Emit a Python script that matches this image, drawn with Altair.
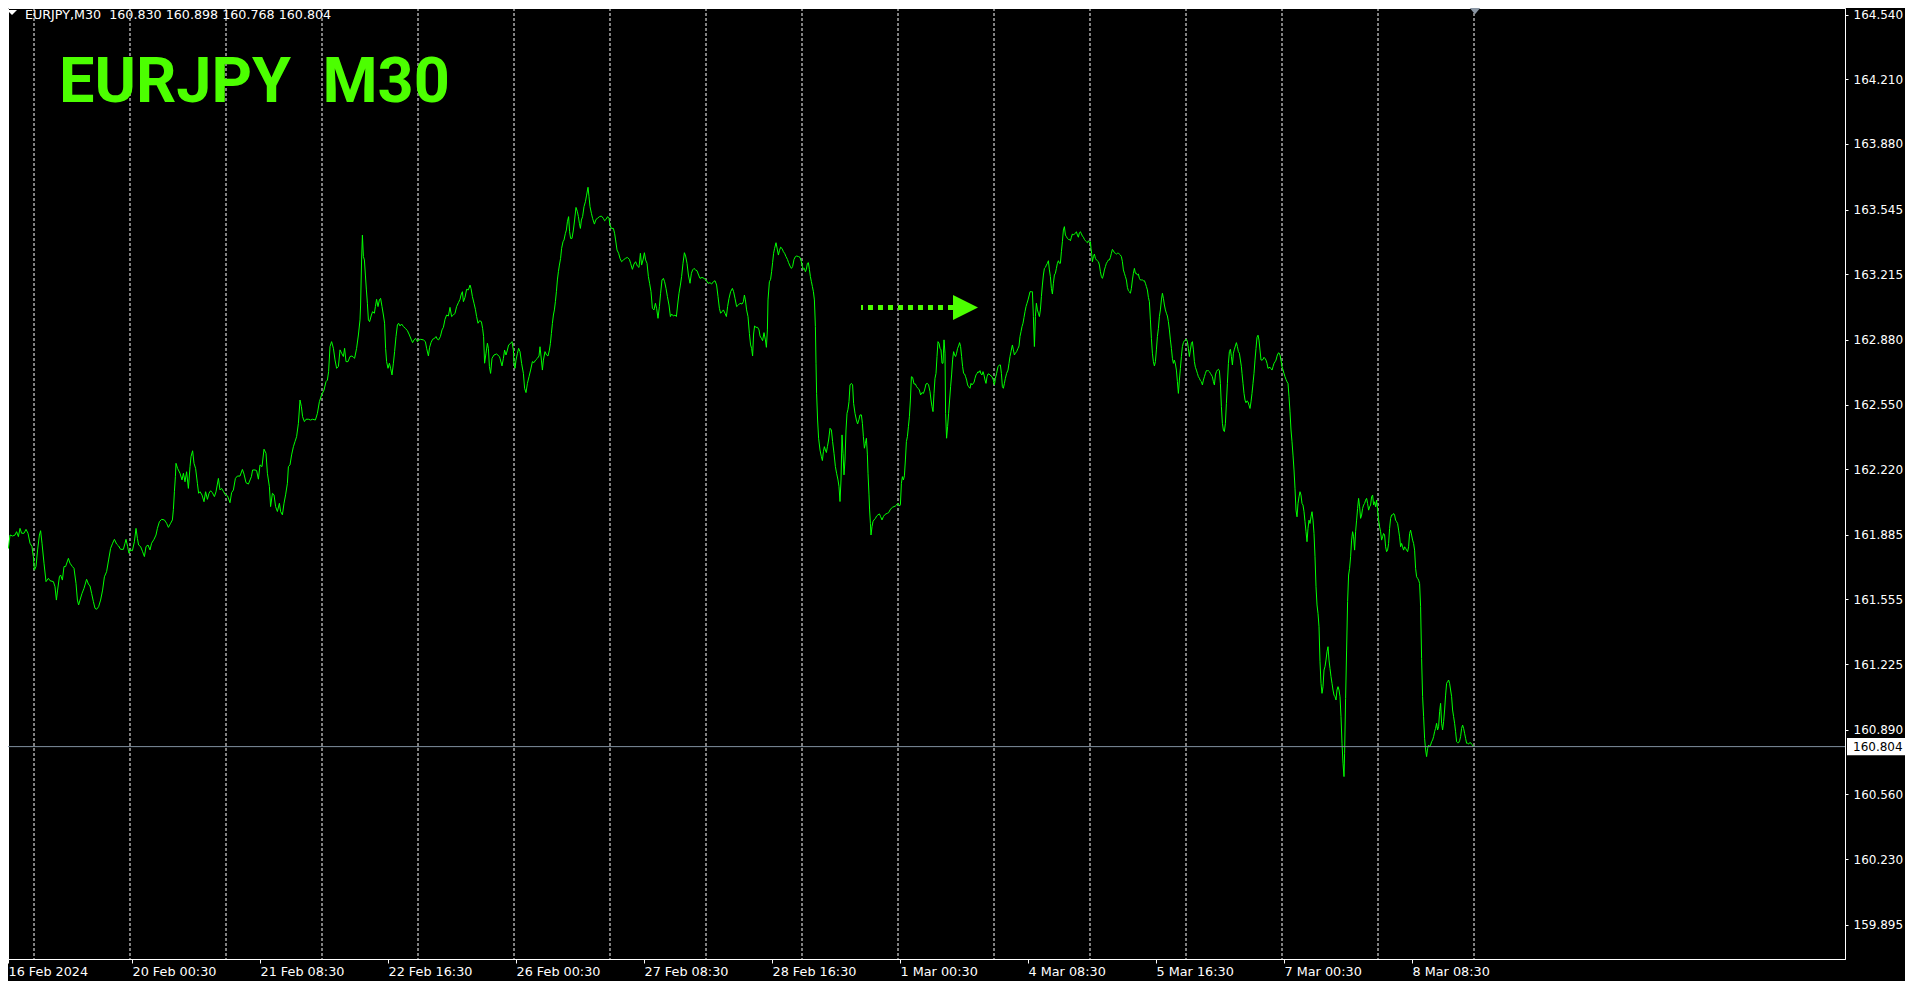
import altair as alt
import pandas as pd

# ---------------- data (bar index of the M30 chart, close price) ----------------
seg_feb16_20 = [(1.0,161.774),(1.3,161.816),(2.3,161.850),(3.2,161.816),(4.0,161.884),(5.3,161.879),(6.5,161.884),(7.3,161.901),(8.2,161.876),(9.0,161.918),(9.8,161.893),(11.0,161.893),(12.0,161.913),(13.0,161.893),(14.0,161.842),(15.0,161.825),(15.7,161.774),(16.2,161.705),(17.0,161.723),(17.8,161.808),(18.7,161.884),(19.3,161.906),(20.0,161.842),(21.0,161.740),(22.0,161.646),(23.2,161.663),(24.0,161.651),(25.7,161.646),(26.5,161.620),(27.2,161.552),(27.8,161.603),(28.7,161.671),(29.3,161.680),(30.2,161.654),(31.0,161.723),(31.8,161.723),(33.2,161.765),(34.0,161.740),(35.2,161.723),(36.0,161.714),(37.0,161.637),(37.7,161.552),(38.3,161.527),(39.0,161.552),(40.0,161.586),(41.0,161.612),(42.3,161.658),(43.2,161.634),(44.0,161.624),(44.8,161.586),(45.7,161.544),(46.5,161.510),(47.3,161.505),(48.3,161.518),(49.3,161.552),(50.3,161.603),(51.2,161.671),(52.3,161.697),(53.3,161.757),(54.3,161.816),(55.3,161.842),(56.2,161.862),(57.3,161.838),(58.3,161.828),(59.3,161.811),(60.7,161.811),(61.5,161.842),(62.0,161.862),(62.8,161.825),(63.5,161.791),(64.3,161.808),(65.2,161.804),(66.2,161.850),(67.0,161.918),(67.7,161.867),(68.3,161.833),(69.3,161.825),(70.3,161.799),(71.2,161.774),(72.0,161.825),(73.0,161.833),(74.0,161.808),(74.8,161.842),(76.0,161.862),(77.0,161.884),(77.7,161.918),(78.7,161.952),(79.8,161.964),(81.2,161.961),(82.3,161.944),(83.2,161.923),(84.3,161.944),(85.2,161.961),(85.7,162.015),(86.2,162.105),(86.7,162.182),(87.0,162.250),(87.8,162.224),(89.0,162.199),(90.0,162.165),(90.7,162.199),(91.5,162.156),(92.3,162.207),(93.2,162.122),(94.0,162.233),(94.5,162.284),(95.3,162.314),(96.0,162.250),(96.8,162.224),(97.7,162.148),(98.3,162.097),(99.0,162.105),(100.0,162.088),(101.0,162.054),(101.8,162.105),(102.7,162.066),(103.5,162.097),(104.3,162.110),(105.2,162.100),(106.2,162.080),(107.0,162.105),(108.2,162.173),(109.0,162.114),(109.8,162.122),(110.8,162.105),(111.8,162.088),(112.8,162.083),(114.0,162.049),(114.8,162.100),(115.7,162.114),(116.7,162.173),(117.7,162.185),(119.0,162.185),(120.2,162.219),(121.0,162.195),(122.0,162.151),(123.2,162.144)]

seg_feb20_23 = [(124.7,162.182),(125.3,162.216),(126.5,162.216),(127.3,162.213),(128.2,162.169),(129.0,162.242),(130.0,162.233),(131.0,162.322),(132.0,162.301),(132.7,162.199),(133.7,162.131),(134.3,162.029),(135.2,162.097),(136.0,162.089),(136.8,162.029),(137.7,162.004),(138.7,162.046),(139.3,162.004),(140.2,161.987),(141.0,162.046),(141.8,162.089),(142.7,162.148),(143.2,162.233),(144.0,162.242),(144.8,162.293),(145.7,162.335),(146.5,162.361),(147.3,162.386),(148.2,162.454),(149.0,162.573),(149.7,162.539),(150.3,162.488),(151.2,162.463),(152.0,162.475),(153.2,162.475),(154.3,162.471),(155.3,162.475),(156.7,162.471),(157.7,162.505),(158.7,162.565),(159.8,162.599),(161.0,162.624),(162.0,162.667),(162.7,162.675),(163.3,162.718),(164.0,162.846),(164.8,162.871),(165.7,162.837),(166.5,162.778),(167.3,162.735),(168.2,162.744),(169.0,162.829),(169.8,162.812),(170.7,162.795),(171.3,162.837),(172.0,162.769),(173.0,162.769),(174.0,162.795),(175.0,162.798),(175.7,162.791),(176.3,162.786),(177.3,162.837),(178.2,162.905),(179.0,162.982),(179.3,163.058),(179.8,163.288),(180.2,163.415),(180.7,163.305),(181.2,163.288),(181.7,163.211),(182.2,163.135),(182.7,163.067),(183.2,162.982),(183.8,162.973),(184.7,163.007),(185.3,163.024),(186.2,163.016),(186.7,163.050),(187.3,163.087),(188.0,163.050),(188.7,163.084),(189.3,163.092),(190.0,163.050),(190.7,163.007),(191.3,162.965),(191.8,162.837),(192.3,162.769),(193.0,162.735),(193.7,162.761),(194.3,162.735),(195.0,162.701),(195.7,162.761),(196.3,162.820),(197.0,162.897),(197.7,162.956),(198.3,162.965),(199.0,162.951),(199.8,162.961),(200.7,162.948),(201.7,162.939),(202.7,162.927),(203.7,162.905),(204.7,162.880),(205.3,162.866),(206.0,162.880),(206.8,162.888),(207.7,162.871),(208.5,162.880),(209.3,162.883),(210.7,162.880),(211.7,162.871),(212.3,162.837),(213.2,162.798),(213.8,162.842),(214.5,162.866),(215.3,162.883),(216.3,162.888),(217.0,162.897),(217.7,162.883),(218.3,162.880),(219.2,162.897),(220.0,162.931),(220.7,162.944),(221.5,162.985),(222.3,163.007),(223.2,163.002),(224.0,163.046),(224.8,162.999),(225.7,163.007),(226.5,163.016),(227.3,163.050),(228.2,163.070),(229.0,163.087),(229.5,163.109),(230.2,163.126),(230.7,163.075),(231.5,163.097),(232.3,163.138),(233.2,163.135),(234.0,163.160),(234.5,163.143),(235.2,163.101),(236.0,163.067),(236.7,163.036),(237.3,162.999),(238.0,162.965),(238.8,162.978),(239.7,162.973),(240.3,162.939),(240.8,162.897),(241.3,162.761),(242.0,162.812),(242.7,162.863),(243.2,162.837),(243.7,162.744),(244.3,162.709),(245.0,162.786),(246.0,162.803),(247.3,162.808),(248.7,162.795)]

seg_feb23_28 = [(249.0,162.786),(250.0,162.747),(250.7,162.786),(251.3,162.828),(252.0,162.803),(252.7,162.828),(253.3,162.854),(254.3,162.862),(255.0,162.871),(255.7,162.828),(256.0,162.760),(256.5,162.735),(257.0,162.777),(257.7,162.811),(258.3,162.837),(259.0,162.820),(259.8,162.760),(260.7,162.709),(261.3,162.633),(262.0,162.611),(262.7,162.658),(263.5,162.692),(264.3,162.726),(265.2,162.769),(266.0,162.764),(266.8,162.777),(267.7,162.786),(268.5,162.798),(269.0,162.845),(269.7,162.777),(270.2,162.726),(270.7,162.777),(271.5,162.820),(272.3,162.803),(273.0,162.798),(273.7,162.828),(274.2,162.862),(274.7,162.913),(275.2,162.964),(275.7,163.007),(276.2,163.033),(276.7,163.075),(277.2,163.126),(277.7,163.186),(278.2,163.228),(278.7,163.262),(279.3,163.296),(279.8,163.347),(280.5,163.381),(281.0,163.390),(281.7,163.424),(282.2,163.441),(282.7,163.483),(283.3,163.509),(283.8,163.432),(284.3,163.398),(285.0,163.398),(285.7,163.441),(286.3,163.492),(287.0,163.556),(287.7,163.534),(288.2,163.509),(288.7,163.475),(289.2,163.449),(289.7,163.492),(290.3,163.509),(291.0,163.560),(291.7,163.585),(292.3,163.619),(293.0,163.659),(293.5,163.611),(294.0,163.560),(294.7,163.526),(295.3,163.500),(296.2,163.471),(297.0,163.495),(297.7,163.500),(298.7,163.509),(299.7,163.512),(300.7,163.500),(301.3,163.488),(302.0,163.495),(302.8,163.509),(303.5,163.500),(304.0,163.466),(304.7,163.449),(305.7,163.449),(306.3,163.424),(306.8,163.390),(307.5,163.339),(308.3,163.322),(309.0,163.296),(309.8,163.279),(310.7,163.288),(311.7,163.296),(312.7,163.301),(313.7,163.291),(314.3,163.271),(315.2,163.240),(316.0,163.267),(316.8,163.279),(317.7,163.257),(318.5,163.250),(319.2,163.322),(319.8,163.262),(320.5,163.288),(321.2,163.325),(321.8,163.288),(322.5,163.271),(323.2,163.203),(323.8,163.169),(324.5,163.126),(325.2,163.041),(326.0,163.033),(326.7,163.067),(327.3,163.041),(328.0,162.990),(328.7,163.050),(329.3,163.118),(330.0,163.186),(330.7,163.194),(331.3,163.177),(332.0,163.143),(332.7,163.101),(333.5,163.058),(334.2,162.999),(334.8,163.012),(335.7,163.002),(336.5,163.007),(337.2,162.999),(337.8,163.058),(338.5,163.118),(339.2,163.160),(339.8,163.203),(340.5,163.271),(341.2,163.325),(341.8,163.308),(342.5,163.271),(343.2,163.211),(344.0,163.169),(344.7,163.220),(345.3,163.237),(346.0,163.245),(346.8,163.237),(347.5,163.233),(348.3,163.211),(349.0,163.194),(350.0,163.199),(351.0,163.194),(352.0,163.186),(353.0,163.169),(354.0,163.172),(354.8,163.165),(355.7,163.177),(356.5,163.182),(357.3,163.160),(358.0,163.101),(358.7,163.041),(359.3,163.016),(360.0,163.024),(360.7,163.033),(361.5,163.016),(362.2,162.999),(362.8,163.050),(363.5,163.092),(364.3,163.126),(365.2,163.143),(365.8,163.126),(366.5,163.092),(367.3,163.050),(368.2,163.058),(369.0,163.067),(370.0,163.063),(370.7,163.075),(371.2,163.109),(371.7,163.084),(372.3,163.033),(373.0,162.999),(373.7,162.913)]

seg_feb28_mar4 = [(374.3,162.854),(374.8,162.837),(375.3,162.798),(375.8,162.910),(376.3,162.951),(377.0,162.944),(377.8,162.944),(378.5,162.931),(379.0,162.900),(379.7,162.888),(380.3,162.876),(381.0,162.917),(381.7,162.880),(382.2,162.842),(382.7,162.931),(383.0,163.084),(383.7,163.177),(384.3,163.189),(384.8,163.228),(385.3,163.274),(385.8,163.322),(386.3,163.347),(387.0,163.376),(387.7,163.339),(388.2,163.313),(388.7,163.335),(389.3,163.353),(390.0,163.347),(390.7,163.330),(391.3,163.322),(392.0,163.305),(392.7,163.291),(393.3,163.274),(394.0,163.257),(394.7,163.245),(395.3,163.254),(396.0,163.291),(396.7,163.305),(397.3,163.308),(398.3,163.305),(399.0,163.301),(399.7,163.279),(400.2,163.254),(400.7,163.240),(401.2,163.245),(401.7,163.228),(402.2,163.240),(402.7,163.271),(403.2,163.274),(403.7,163.240),(404.2,163.203),(404.7,163.177),(405.2,163.152),(405.7,163.126),(406.2,163.084),(406.7,162.948),(407.0,162.761),(407.3,162.607),(407.8,162.471),(408.3,162.378),(409.0,162.318),(409.7,162.284),(410.2,162.264),(410.7,162.310),(411.2,162.335),(411.7,162.318),(412.2,162.305),(412.7,162.335),(413.3,162.369),(414.0,162.429),(414.7,162.420),(415.3,162.361),(416.0,162.301),(416.7,162.233),(417.3,162.199),(418.0,162.165),(418.5,162.131),(419.0,162.055),(419.5,162.165),(420.0,162.395),(420.5,162.301),(421.0,162.191),(421.5,162.267),(422.0,162.420),(422.5,162.505),(423.0,162.526),(423.5,162.565),(424.0,162.650),(424.7,162.658),(425.3,162.650),(425.8,162.556),(426.5,162.505),(427.2,162.471),(427.8,162.451),(428.5,162.475),(429.0,162.497),(429.7,162.497),(430.2,162.454),(430.7,162.386),(431.2,162.327),(431.7,162.352),(432.2,162.378),(432.7,162.293),(433.0,162.199),(433.5,162.089),(433.8,162.012),(434.2,161.944),(434.5,161.884),(435.0,161.927),(435.5,161.953),(436.0,161.961),(436.7,161.969),(437.3,161.981),(438.0,161.987),(438.7,161.992),(439.3,161.978),(440.0,161.961),(440.7,161.978),(441.3,161.987),(442.0,161.992),(442.7,161.995),(443.3,161.998),(444.0,162.012),(444.7,162.021),(445.3,162.026),(446.0,162.029),(446.7,162.032),(447.3,162.038),(448.0,162.046),(448.7,162.032),(449.2,162.038),(449.7,162.148),(450.2,162.182),(450.7,162.165),(451.2,162.186),(451.7,162.267),(452.2,162.361),(452.7,162.386),(453.2,162.437),(453.7,162.488),(454.2,162.573),(454.7,162.692),(455.3,162.689),(456.0,162.655),(456.7,162.655),(457.3,162.641),(458.0,162.633),(458.7,162.624),(459.3,162.599),(460.0,162.611),(460.7,162.607),(461.3,162.624),(462.0,162.655),(462.7,162.658),(463.3,162.650),(464.0,162.616),(464.5,162.573),(465.0,162.539),(465.5,162.514),(466.0,162.607),(466.5,162.684),(467.0,162.709),(467.5,162.795),(468.0,162.871),(468.5,162.863),(469.0,162.837),(469.5,162.829),(470.0,162.761),(470.5,162.761),(471.0,162.880),(471.5,162.812),(471.8,162.505),(472.3,162.378),(472.8,162.437),(473.3,162.505),(473.8,162.573),(474.3,162.641),(474.8,162.701),(475.3,162.778),(475.8,162.820),(476.3,162.803),(476.8,162.795),(477.3,162.812),(477.8,162.837),(478.3,162.849),(478.8,162.866),(479.3,162.846),(479.8,162.795),(480.3,162.744),(480.8,162.709),(481.3,162.706),(481.8,162.692),(482.3,162.675),(482.8,162.650),(483.3,162.641),(484.0,162.633),(484.5,162.658),(485.0,162.650),(485.5,162.658),(486.0,162.662),(486.5,162.684),(487.0,162.701),(487.5,162.709),(488.0,162.718),(488.5,162.713),(489.0,162.723),(489.5,162.706),(490.0,162.701),(490.5,162.718),(491.0,162.701),(491.5,162.675),(492.0,162.658),(492.5,162.692),(493.0,162.706),(493.5,162.706),(494.0,162.701)]

seg_mar4_6 = [(495.0,162.692),(495.7,162.675),(496.2,162.650),(496.7,162.684),(497.3,162.709),(498.0,162.743),(498.7,162.752),(499.2,162.752),(499.7,162.709),(500.2,162.641),(500.7,162.633),(501.2,162.658),(501.7,162.684),(502.3,162.709),(503.0,162.726),(503.5,162.760),(504.0,162.795),(504.5,162.820),(505.2,162.854),(505.7,162.829),(506.2,162.803),(506.7,162.812),(507.3,162.820),(508.0,162.837),(508.5,162.849),(509.0,162.897),(509.5,162.922),(510.0,162.948),(510.5,162.965),(511.0,162.995),(511.5,163.024),(512.0,163.050),(512.5,163.067),(513.0,163.084),(513.5,163.104),(514.0,163.126),(514.7,163.126),(515.2,163.126),(515.7,162.999),(516.2,162.846),(516.7,162.999),(517.2,163.067),(517.7,163.033),(518.2,163.016),(518.7,162.999),(519.2,163.033),(519.7,163.101),(520.2,163.160),(520.7,163.211),(521.2,163.245),(521.7,163.250),(522.2,163.262),(522.7,163.271),(523.2,163.284),(523.7,163.237),(524.2,163.203),(524.7,163.143),(525.2,163.114),(525.7,163.169),(526.2,163.211),(526.7,163.220),(527.2,163.245),(527.7,163.271),(528.2,163.284),(528.7,163.271),(529.2,163.271),(529.7,163.330),(530.2,163.381),(530.7,163.441),(531.2,163.458),(531.7,163.415),(532.2,163.407),(532.7,163.398),(533.2,163.393),(533.7,163.393),(534.2,163.386),(534.7,163.404),(535.2,163.421),(535.7,163.415),(536.2,163.421),(536.7,163.424),(537.2,163.432),(537.7,163.415),(538.2,163.404),(538.7,163.427),(539.2,163.432),(539.7,163.421),(540.2,163.410),(540.7,163.404),(541.2,163.393),(541.7,163.386),(542.2,163.381),(542.7,163.376),(543.2,163.386),(543.7,163.376),(544.2,163.381),(544.5,163.347),(544.8,163.322),(545.2,163.279),(545.7,163.305),(546.2,163.318),(546.7,163.296),(547.2,163.288),(547.7,163.284),(548.2,163.279),(548.7,163.262),(549.2,163.228),(549.7,163.203),(550.2,163.194),(550.7,163.211),(551.2,163.237),(551.7,163.254),(552.2,163.271),(552.7,163.279),(553.2,163.288),(553.7,163.288),(554.2,163.301),(554.7,163.322),(555.2,163.342),(555.7,163.335),(556.2,163.325),(556.7,163.322),(557.2,163.318),(557.7,163.322),(558.2,163.322),(558.7,163.318),(559.2,163.313),(559.7,163.305),(560.2,163.279),(560.7,163.237),(561.2,163.220),(561.7,163.203),(562.2,163.186),(562.7,163.148),(563.2,163.131),(563.7,163.126),(564.2,163.118),(564.7,163.143),(565.2,163.186),(565.7,163.220),(566.2,163.245),(566.7,163.220),(567.2,163.220),(567.7,163.211),(568.2,163.216),(568.7,163.194),(569.2,163.186),(569.7,163.186),(570.2,163.186),(570.7,163.182),(571.2,163.182),(571.7,163.169),(572.2,163.152),(572.7,163.135),(573.2,163.097),(573.7,163.075),(574.2,162.982),(574.7,162.888),(575.2,162.812),(575.7,162.769),(576.2,162.747),(576.7,162.769),(577.2,162.829),(577.7,162.897),(578.2,162.939),(578.7,162.999),(579.2,163.033),(579.7,163.084),(580.2,163.118),(580.7,163.092),(581.2,163.058),(581.7,163.033),(582.2,163.016),(582.7,163.002),(583.2,162.973),(583.7,162.931),(584.2,162.880),(584.7,162.837),(585.2,162.786),(585.7,162.760),(586.2,162.777),(586.7,162.757),(587.2,162.726),(587.7,162.667),(588.2,162.607),(588.7,162.675),(589.2,162.735),(589.7,162.795),(590.2,162.846),(590.7,162.866),(591.2,162.876),(591.7,162.880),(592.2,162.883),(592.7,162.871),(593.2,162.837),(593.7,162.795),(594.2,162.829),(594.7,162.863),(595.2,162.871),(595.7,162.829),(596.2,162.769),(596.7,162.740),(597.2,162.726),(597.7,162.709),(598.2,162.692),(598.7,162.684),(599.2,162.672),(599.7,162.667),(600.2,162.650),(600.7,162.675),(601.2,162.692),(601.7,162.709),(602.2,162.723),(602.7,162.723),(603.2,162.723),(603.7,162.718),(604.2,162.709),(604.7,162.701),(605.2,162.692),(605.7,162.667),(606.2,162.650),(606.7,162.701),(607.2,162.718),(607.7,162.726),(608.2,162.730),(608.7,162.723),(609.2,162.658),(609.7,162.539),(610.2,162.454),(610.7,162.420),(611.2,162.412),(611.7,162.454),(612.2,162.556),(612.7,162.658),(613.2,162.760),(613.7,162.820),(614.2,162.832),(614.7,162.795),(615.2,162.752),(615.7,162.812),(616.2,162.832),(616.7,162.849),(617.2,162.866),(617.7,162.846),(618.2,162.820),(618.7,162.812),(619.2,162.777),(619.7,162.743)]

seg_mar6_8 = [(620.0,162.709),(620.5,162.658),(621.0,162.607),(621.5,162.573),(622.0,162.559),(622.5,162.569),(623.0,162.564),(623.5,162.547),(624.0,162.530),(624.5,162.564),(625.0,162.607),(625.5,162.658),(626.0,162.709),(626.5,162.777),(627.0,162.836),(627.5,162.893),(628.0,162.904),(628.5,162.879),(629.0,162.828),(629.5,162.777),(630.0,162.777),(630.5,162.780),(631.0,162.791),(631.5,162.785),(632.0,162.777),(632.5,162.760),(633.0,162.734),(633.5,162.739),(634.0,162.739),(634.5,162.734),(635.0,162.726),(635.5,162.743),(636.0,162.760),(636.5,162.768),(637.0,162.777),(637.5,162.797),(638.0,162.811),(638.5,162.814),(639.0,162.802),(639.5,162.777),(640.0,162.743),(640.5,162.726),(641.0,162.709),(641.5,162.692),(642.0,162.678),(642.5,162.666),(643.0,162.658),(643.5,162.590),(644.0,162.513),(644.5,162.420),(645.0,162.360),(645.5,162.292),(646.0,162.216),(646.5,162.122),(647.0,162.011),(647.5,161.977),(648.0,162.045),(648.5,162.079),(649.0,162.105),(649.5,162.088),(650.0,162.045),(650.5,162.037),(651.0,162.003),(651.5,161.952),(652.0,161.901),(652.5,161.850),(653.0,161.918),(653.5,161.960),(654.0,161.943),(654.5,161.977),(655.0,162.003),(655.5,161.960),(656.0,161.892),(656.5,161.773),(657.0,161.620),(657.5,161.527),(658.0,161.484),(658.5,161.416),(659.0,161.237),(659.5,161.127),(660.0,161.076),(660.5,161.110),(661.0,161.195),(661.5,161.212),(662.0,161.246),(662.5,161.288),(663.0,161.314),(663.5,161.246),(664.0,161.203),(664.5,161.161),(665.0,161.127),(665.5,161.093),(666.0,161.067),(666.5,161.059),(667.0,161.042),(667.5,161.093),(668.0,161.110),(668.5,161.093),(669.0,161.059),(669.5,160.957),(670.0,160.821),(670.5,160.719),(671.0,160.651),(671.3,160.770),(671.8,161.050),(672.3,161.297),(672.8,161.544),(673.3,161.680),(673.8,161.714),(674.3,161.773),(674.8,161.858),(675.3,161.901),(675.8,161.875),(676.3,161.807),(676.8,161.901),(677.3,161.960),(677.8,162.020),(678.3,162.071),(678.8,162.028),(679.3,161.969),(679.8,161.986),(680.3,162.020),(680.8,162.037),(681.3,162.045),(681.8,162.062),(682.3,162.071),(682.8,162.045),(683.3,162.011),(683.8,162.028),(684.3,162.037),(684.8,162.079),(685.3,162.088),(685.8,162.037),(686.3,162.054),(686.8,162.028),(687.3,162.062),(687.8,162.011),(688.3,161.960),(688.8,161.926),(689.3,161.901),(689.8,161.858),(690.3,161.875),(690.8,161.892),(691.3,161.884),(691.8,161.824),(692.3,161.799),(692.8,161.807),(693.3,161.841),(693.8,161.918),(694.3,161.969),(694.8,161.986),(695.3,161.986),(695.8,161.994),(696.3,161.986),(696.8,161.960),(697.3,161.952),(697.8,161.943),(698.3,161.909),(698.8,161.875),(699.3,161.824),(699.8,161.841),(700.3,161.824),(700.8,161.807),(701.3,161.824),(701.8,161.816),(702.3,161.807),(702.8,161.799),(703.3,161.824),(703.8,161.892),(704.3,161.909),(704.8,161.884),(705.3,161.858),(705.8,161.841),(706.3,161.807),(706.8,161.714),(707.3,161.671),(707.8,161.663),(708.3,161.654),(708.8,161.637),(709.3,161.518),(709.8,161.254),(710.3,161.059),(710.8,160.957),(711.3,160.846),(711.8,160.787),(712.3,160.753),(712.8,160.795),(713.3,160.812),(713.8,160.804),(714.3,160.812),(714.8,160.829),(715.3,160.838),(715.8,160.855),(716.3,160.880),(716.8,160.897),(717.3,160.923),(717.8,160.889),(718.3,160.906),(718.8,160.982),(719.3,161.025),(719.8,160.923),(720.3,160.889),(720.8,160.931),(721.3,160.991),(721.8,161.067),(722.3,161.127),(722.8,161.135),(723.3,161.144),(723.8,161.127),(724.3,161.093),(724.8,161.059),(725.3,160.991),(725.8,160.957),(726.3,160.923),(726.8,160.880),(727.3,160.829),(727.8,160.824),(728.3,160.824),(728.8,160.834),(729.3,160.855),(729.8,160.897),(730.3,160.914),(730.8,160.897),(731.3,160.872),(731.8,160.846),(732.3,160.821),(732.8,160.821),(733.3,160.817),(733.8,160.824),(734.3,160.824),(734.8,160.816),(735.3,160.812),(735.8,160.804)]

price_ticks = [164.540, 164.210, 163.880, 163.545, 163.215, 162.880, 162.550,
               162.220, 161.885, 161.555, 161.225, 160.890, 160.560, 160.230, 159.895]
time_tick_bars = [3, 65, 129, 193, 257, 321, 385, 449, 513, 577, 641, 705]
time_tick_labels = ["16 Feb 2024", "20 Feb 00:30", "21 Feb 08:30", "22 Feb 16:30",
                    "26 Feb 00:30", "27 Feb 08:30", "28 Feb 16:30", "1 Mar 00:30",
                    "4 Mar 08:30", "5 Mar 16:30", "7 Mar 00:30", "8 Mar 08:30"]
day_start_bars = [16, 64, 112, 160, 208, 256, 304, 352, 400, 448, 496, 544, 592, 640, 688, 736]
ohlc_last = [160.830, 160.898, 160.768, 160.804]
last_price = 160.804
arrow_bars = [429.5, 475.5]
arrow_head_bar = [481.75]
arrow_price = [163.045]
shift_marker_bar = [736.5]

# ---------------- layout ----------------
W, H = 1837, 951
X_DOM = [3, 921.5]
Y_DOM = [159.720, 164.574]
LINE_GREEN = "#00FF00"
TEXT_GREEN = "#4CFF00"
FONT = "DejaVu Sans"

xs = alt.Scale(domain=X_DOM, nice=False, zero=False)
ys = alt.Scale(domain=Y_DOM, nice=False, zero=False)

df = pd.DataFrame(seg_feb16_20 + seg_feb20_23 + seg_feb23_28 + seg_feb28_mar4 + seg_mar4_6 + seg_mar6_8,
                  columns=["bar", "price"])

label_expr = ("[" + ",".join("'%s'" % t for t in time_tick_labels) + "][indexof(["
              + ",".join(str(b) for b in time_tick_bars) + "], datum.value)]")

x_axis = alt.Axis(values=time_tick_bars, labelExpr=label_expr, orient="bottom", grid=False, title=None,
                  domainColor="white", domainWidth=1, tickColor="white", tickSize=4, tickWidth=1,
                  labelColor="white", labelFont=FONT, labelFontSize=12.8, labelAlign="left",
                  labelBaseline="top", labelPadding=2, labelOverlap=False, labelFlush=False)
y_axis = alt.Axis(values=price_ticks, format=".3f", orient="right", grid=False, title=None,
                  domainColor="white", domainWidth=1, tickColor="white", tickSize=3, tickWidth=1,
                  labelColor="white", labelFont=FONT, labelFontSize=12, labelAlign="left",
                  labelBaseline="middle", labelPadding=5, labelOverlap=False, labelFlush=False)

# first layer carries the x axis, second layer (first with y) carries the y axis
grid = alt.Chart(pd.DataFrame({"bar": day_start_bars})).mark_rule(
    color="white", strokeDash=[3, 2], strokeWidth=1
).encode(x=alt.X("bar:Q", scale=xs, axis=x_axis))

line = alt.Chart(df).mark_line(color=LINE_GREEN, strokeWidth=1, clip=True).encode(
    x=alt.X("bar:Q", scale=xs, axis=x_axis),
    y=alt.Y("price:Q", scale=ys, axis=y_axis),
)

bid_line = alt.Chart(pd.DataFrame({"price": [last_price]})).mark_rule(
    color="#8090a0", strokeWidth=1
).encode(y=alt.Y("price:Q", scale=ys, axis=y_axis))

arrow_df = pd.DataFrame({"b0": [arrow_bars[0]], "b1": [arrow_bars[1]], "price": arrow_price})
arrow_shaft = alt.Chart(arrow_df).mark_rule(
    color=TEXT_GREEN, strokeWidth=5, strokeDash=[5, 5], strokeDashOffset=3, strokeCap="butt"
).encode(x=alt.X("b0:Q", scale=xs, axis=x_axis), x2="b1:Q", y=alt.Y("price:Q", scale=ys, axis=y_axis))

arrow_head = alt.Chart(pd.DataFrame({"bar": arrow_head_bar, "price": arrow_price})).mark_point(
    shape="M-1,-1L1,0L-1,1Z", size=625, filled=True, color=TEXT_GREEN, opacity=1, strokeWidth=0
).encode(x=alt.X("bar:Q", scale=xs, axis=x_axis), y=alt.Y("price:Q", scale=ys, axis=y_axis))

title = alt.Chart(pd.DataFrame({"t": ["EURJPY\u00a0\u00a0M30"]})).mark_text(
    font="Roboto", fontWeight="bold", fontSize=63, color=TEXT_GREEN, align="left", baseline="alphabetic"
).encode(text="t:N", x=alt.value(51), y=alt.value(94))

header_text = "EURJPY,M30\u00a0\u00a0" + " ".join("%.3f" % v for v in ohlc_last)
header = alt.Chart(pd.DataFrame({"t": [header_text]})).mark_text(
    font=FONT, fontSize=12.7, color="white", align="left", baseline="top"
).encode(text="t:N", x=alt.value(17), y=alt.value(0.5))

header_tri = alt.Chart(pd.DataFrame({"t": [0]})).mark_point(
    shape="M-1,-0.5L1,-0.5L0,0.5Z", size=100, filled=True, color="white", opacity=1, strokeWidth=0
).encode(x=alt.value(4), y=alt.value(4.5))

shift_marker = alt.Chart(pd.DataFrame({"bar": shift_marker_bar})).mark_point(
    shape="M-1,-0.6L1,-0.6L0,0.6Z", size=120, filled=True, color="#8a96a3", opacity=1, strokeWidth=0
).encode(x=alt.X("bar:Q", scale=xs, axis=x_axis), y=alt.value(3))

price_box = alt.Chart(pd.DataFrame({"price": [last_price]})).mark_point(
    shape="M-1,-0.3L1,-0.3L1,0.3L-1,0.3Z", size=3364, filled=True, color="white", opacity=1, strokeWidth=0
).encode(x=alt.value(1868), y=alt.Y("price:Q", scale=ys, axis=y_axis))

price_box_text = alt.Chart(pd.DataFrame({"price": [last_price]})).mark_text(
    font=FONT, fontSize=12, color="black", align="left", baseline="middle"
).encode(text=alt.Text("price:Q", format=".3f"), x=alt.value(1845),
         y=alt.Y("price:Q", scale=ys, axis=y_axis))

chart = alt.layer(
    grid, line, bid_line, arrow_shaft, arrow_head, title, header, header_tri, shift_marker,
    price_box, price_box_text
).properties(
    width=W, height=H,
    padding={"left": 0, "top": 0, "right": 60, "bottom": 22},
    autosize=alt.AutoSizeParams(type="none"),
    background="black",
).configure_view(stroke="white", strokeWidth=1)

chart.save("out.html", embed_options={"renderer": "svg", "actions": False})
